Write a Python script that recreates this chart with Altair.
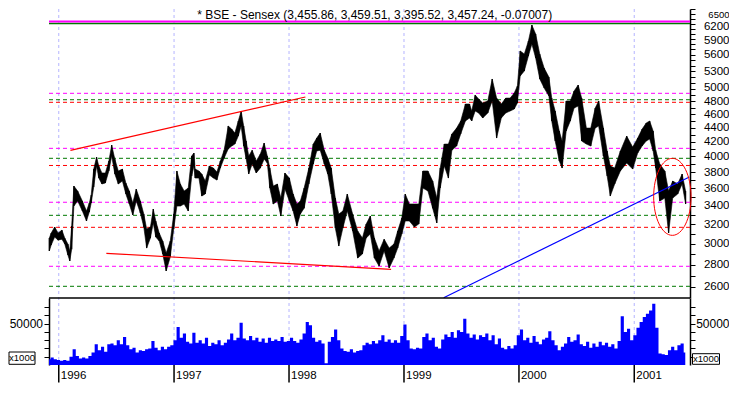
import altair as alt
import pandas as pd

FONT = "Liberation Sans"
TITLE = "* BSE - Sensex (3,455.86, 3,459.51, 3,395.52, 3,457.24, -0.07007)"

# ---------------- price (high / low) ----------------
dates = [
"1995-12-02","1995-12-08","1995-12-19","1995-12-30","1996-01-11","1996-01-20","1996-01-30","1996-02-05","1996-02-11","1996-02-18",
"1996-03-01","1996-03-16","1996-03-29","1996-04-07","1996-04-13","1996-04-21","1996-04-30","1996-05-07","1996-05-17","1996-05-28",
"1996-06-08","1996-06-17","1996-06-27","1996-07-08","1996-07-21","1996-08-01","1996-08-12","1996-08-23","1996-09-03","1996-09-16",
"1996-09-27","1996-10-06","1996-10-18","1996-10-27","1996-11-04","1996-11-15","1996-11-26","1996-12-07","1996-12-20","1996-12-31",
"1997-01-10","1997-01-21","1997-02-02","1997-02-15","1997-02-26","1997-03-05","1997-03-09","1997-03-21","1997-03-30","1997-04-10",
"1997-04-23","1997-05-06","1997-05-17","1997-05-28","1997-06-09","1997-06-22","1997-07-03","1997-07-13","1997-07-24","1997-08-02",
"1997-08-10","1997-08-18","1997-08-26","1997-09-06","1997-09-19","1997-10-02","1997-10-14","1997-10-24","1997-11-01","1997-11-12",
"1997-11-25","1997-12-06","1997-12-19","1998-01-02","1998-01-14","1998-01-26","1998-02-06","1998-02-18","1998-03-05","1998-03-19",
"1998-03-30","1998-04-10","1998-04-23","1998-05-04","1998-05-15","1998-05-28","1998-06-08","1998-06-21","1998-07-05","1998-07-22",
"1998-08-07","1998-08-22","1998-09-03","1998-09-16","1998-09-29","1998-10-14","1998-10-30","1998-11-15","1998-11-30","1998-12-12",
"1998-12-25","1999-01-05","1999-01-18","1999-02-03","1999-02-17","1999-03-02","1999-03-18","1999-04-02","1999-04-15","1999-04-26",
"1999-05-09","1999-05-22","1999-06-02","1999-06-17","1999-06-30","1999-07-15","1999-07-28","1999-08-04","1999-08-15","1999-08-26",
"1999-09-08","1999-09-24","1999-10-08","1999-10-22","1999-11-06","1999-11-20","1999-12-04","1999-12-17","1999-12-27","2000-01-05",
"2000-01-18","2000-01-31","2000-02-11","2000-02-23","2000-03-07","2000-03-21","2000-04-05","2000-04-14","2000-04-25","2000-05-08",
"2000-05-17","2000-05-30","2000-06-12","2000-06-24","2000-07-07","2000-07-18","2000-08-02","2000-08-16","2000-08-30","2000-09-10",
"2000-09-25","2000-10-07","2000-10-17","2000-10-31","2000-11-18","2000-12-08","2000-12-27","2001-01-12","2001-01-26","2001-02-08",
"2001-02-19","2001-03-02","2001-03-10","2001-03-23","2001-04-08","2001-04-20","2001-05-03","2001-05-19","2001-06-02","2001-06-13"]

highs = [
3056,3107,3169,3107,3137,3056,2996,2928,3180,3628,
3569,3453,3341,3430,3522,3837,3992,3876,3788,3788,
3941,4153,3966,3813,3837,3665,3569,3430,3592,3453,
3308,3148,3169,3362,3233,3107,3026,2909,3026,3308,
3813,3653,3569,3604,4006,4046,3837,3813,3775,3689,
3876,3850,3800,3941,4084,4423,4378,4322,4497,4648,
4423,4209,4006,4084,3941,4033,4181,4006,3850,3628,
3653,3487,3788,3725,3534,3419,3453,3604,3850,4167,
4251,4322,4084,3979,3850,3487,3308,3341,3534,3308,
3128,3056,3201,3286,3056,2928,3045,2956,2996,3128,
3264,3534,3419,3419,3419,3813,3813,3689,3487,3850,
4167,4167,4308,4393,4497,4756,4756,4648,4900,4834,
4772,4804,5166,4850,4756,4850,4850,4932,5047,5666,
5610,5856,6172,5992,5610,5355,5199,4850,4648,4351,
4209,4804,4804,4965,5064,4850,4393,4393,4693,4804,
4393,4073,3876,3850,4073,4279,4126,4251,4378,4467,
4497,4351,4084,3902,3813,3569,3689,3653,3775,3569]

lows = [
2928,2986,3066,3035,3045,2996,2889,2833,2946,3396,
3453,3341,3233,3330,3430,3616,3876,3725,3653,3665,
3813,4006,3775,3653,3689,3534,3419,3297,3453,3319,
3169,2956,3056,3212,3066,3026,2899,2741,2870,3148,
3396,3396,3419,3341,3750,3876,3725,3725,3510,3534,
3763,3725,3700,3850,3979,4100,4140,4167,4279,4423,
4140,3966,3775,3902,3788,3850,3966,3915,3604,3419,
3453,3286,3592,3453,3341,3180,3308,3373,3653,3902,
4073,4084,3902,3775,3534,3158,2976,3158,3341,3128,
2860,2899,3056,3097,2860,2786,2928,2768,2860,2956,
3097,3233,3233,3169,3201,3604,3569,3373,3212,3604,
3876,3725,4084,4140,4308,4497,4541,4497,4648,4617,
4541,4617,4804,4251,4541,4617,4648,4677,4772,5217,
5304,5573,5798,5535,5166,5013,4883,4497,4209,3941,
3850,4351,4497,4693,4725,4209,4167,4140,4393,4423,
4006,3750,3510,3653,3813,3915,3837,4046,4140,4209,
4237,4073,3850,3453,3487,3107,3487,3534,3653,3419]

# ---------------- volume (x1000), one reading every 10 days from 1995-12-01 ----------------
vol = [
7000,9000,7000,6000,5000,6000,5000,10000,19000,11000,
8000,9000,8000,11000,15000,25000,18000,22000,16000,25000,
26000,24000,30000,25000,34000,24000,19000,21000,15000,18000,
17000,19000,20000,29000,21000,18000,22000,19000,22000,24000,
30000,46000,33000,38000,28000,26000,39000,27000,30000,26000,
33000,23000,27000,25000,30000,24000,27000,31000,38000,30000,
33000,51000,32000,30000,35000,30000,33000,28000,32000,27000,
33000,29000,31000,29000,34000,28000,29000,33000,29000,27000,
31000,38000,52000,48000,33000,28000,30000,26000,2000,28000,
34000,43000,30000,20000,17000,16000,19000,15000,17000,18000,
24000,27000,25000,29000,26000,30000,36000,28000,31000,27000,
30000,27000,35000,49000,30000,20000,19000,21000,20000,34000,
38000,30000,33000,22000,20000,31000,37000,34000,40000,33000,
42000,40000,56000,38000,33000,37000,31000,36000,34000,38000,
30000,36000,25000,32000,21000,19000,23000,20000,24000,36000,
43000,30000,33000,27000,35000,28000,25000,31000,33000,41000,
30000,24000,18000,22000,26000,34000,28000,30000,37000,25000,
23000,28000,21000,26000,22000,28000,24000,27000,22000,25000,
20000,29000,59000,40000,44000,30000,36000,45000,52000,58000,
62000,66000,74000,45000,14000,13000,12000,18000,22000,18000,
24000,26000,15000]
vol_dates = [d.strftime("%Y-%m-%d") for d in pd.date_range("1995-12-01", periods=len(vol), freq="10D")]

# ---------------- support / resistance levels ----------------
level_values = [4927, 4824, 4783, 4109, 3976, 3883, 3439, 3294, 3166, 2784, 2606]
level_colors = ["#ff00ff", "#007a00", "#ff0000", "#ff00ff", "#007a00", "#ff0000",
                "#ff00ff", "#007a00", "#ff0000", "#ff00ff", "#007a00"]
top_values = [6205, 6245]
top_colors = ["#007a00", "#ff00ff"]
top_widths = [1.4, 1.8]

# ---------------- trend lines ----------------
trend_dates = ["1996-02-07", "1998-02-22", "1996-05-31", "1998-11-21", "1999-05-07", "2001-06-25"]
trend_values = [4082, 4868, 2906, 2756, 2510, 3738]
trend_seg = ["up", "up", "low", "low", "blue", "blue"]
trend_colors = ["#ff0000", "#ff0000", "#ff0000", "#ff0000", "#0000ff", "#0000ff"]

ellipse_date = ["2001-05-02"]
ellipse_value = [3501]

year_dates = ["1996-01-01", "1997-01-01", "1998-01-01", "1999-01-01", "2000-01-01", "2001-01-01"]
year_labels = ["1996", "1997", "1998", "1999", "2000", "2001"]

price_labels = [2600, 2800, 3000, 3200, 3400, 3600, 3800, 4000, 4200, 4400, 4600, 4800,
                5000, 5300, 5600, 5900, 6200, 6500]
price_ticks = list(range(2600, 6501, 100))
vol_ticks = [10000, 20000, 30000, 40000, 50000, 60000, 70000]

# ---------------- layout constants ----------------
W, H = 641, 356
P_BOTTOM = 289
P_MIN, P_MAX = 2507.3, 6508
V_MAX = 81100

price = pd.DataFrame({"date": dates, "high": highs, "low": lows})
volume = pd.DataFrame({"date": vol_dates, "vol": vol})
levels = pd.DataFrame({"value": level_values, "color": level_colors})
tops = pd.DataFrame({"value": top_values, "color": top_colors, "w": top_widths})
trend = pd.DataFrame({"date": trend_dates, "value": trend_values, "seg": trend_seg, "color": trend_colors})
ell = pd.DataFrame({"date": ellipse_date, "value": ellipse_value})
years = pd.DataFrame({"date": year_dates, "label": year_labels})
sep = pd.DataFrame({"value": [P_MIN]})

month_ticks = [int(pd.Timestamp(d, tz="UTC").value // 10**6)
               for d in pd.date_range("1996-01-01", "2001-06-01", freq="MS")]

xscale = alt.Scale(type="utc", nice=False,
                   domain=[alt.DateTime(year=1995, month=12, date=1, utc=True),
                           alt.DateTime(year=2001, month=6, date=27, utc=True)])
pscale = alt.Scale(type="log", domain=[P_MIN, P_MAX], range=[P_BOTTOM, 0], nice=False)
vscale = alt.Scale(type="linear", domain=[0, V_MAX], range=[H, P_BOTTOM], nice=False, zero=True)

plabel_expr = ("indexof([" + ",".join(str(v) for v in price_labels) +
               "], datum.value) >= 0 ? format(datum.value, 'd') : ''")
vlabel_expr = "datum.value === 50000 ? '50000' : ''"

common_axis = dict(title=None, grid=False, tickSize=5, tickColor="black", tickWidth=1,
                   domainColor="black", domainWidth=1.5, labelColor="black",
                   labelFont=FONT, labelOverlap=False)
p_font = {"condition": {"test": "datum.value === 6500", "value": 9.5}, "value": 11.5}
p_offset = {"condition": [
    {"test": "datum.value === 6200", "value": 3.3},
    {"test": "datum.value === 5900", "value": 1.8},
    {"test": "datum.value === 5000", "value": -1.0},
    {"test": "datum.value === 4600", "value": 0.3}], "value": 0}

p_axis_left = alt.Axis(orient="left", values=price_ticks, labelExpr=plabel_expr,
                       labelPadding=1.5, labelFlush=2, labelFontSize=p_font,
                       labelOffset=p_offset, **common_axis)
p_axis_right = alt.Axis(orient="right", values=price_ticks, labelExpr=plabel_expr,
                        labelAlign="right", labelPadding=34, labelFlush=2,
                        labelFontSize=p_font, labelOffset=p_offset, **common_axis)
v_axis_left = alt.Axis(orient="left", values=vol_ticks, labelExpr=vlabel_expr,
                       labelPadding=1.5, labelFontSize=12, **common_axis)
v_axis_right = alt.Axis(orient="right", values=vol_ticks, labelExpr=vlabel_expr,
                        labelAlign="right", labelPadding=34, labelFontSize=12, **common_axis)
x_axis = alt.Axis(orient="bottom", values=month_ticks, labels=False, title=None, grid=False,
                  tickSize=5, tickColor="black", tickWidth=1, domainColor="black", domainWidth=1.5)

X = lambda axis=None: alt.X("date:T", scale=xscale, axis=axis)

# vertical year grid (carries the x axis)
vgrid = alt.Chart(years).mark_rule(color="#b4b4ff", strokeDash=[3, 3], strokeWidth=1).encode(
    x=X(x_axis), y=alt.value(0), y2=alt.value(H))

# price panel
hl = alt.Chart(levels).mark_rule(strokeDash=[4, 3], strokeWidth=1).encode(
    y=alt.Y("value:Q", scale=pscale, axis=p_axis_left),
    color=alt.Color("color:N", scale=None))
top_lines = alt.Chart(tops).mark_rule().encode(
    y=alt.Y("value:Q", scale=pscale, axis=None),
    color=alt.Color("color:N", scale=None),
    strokeWidth=alt.StrokeWidth("w:Q", scale=None))
band = alt.Chart(price).mark_area(color="black", stroke="black", strokeWidth=0.6,
                                  interpolate="linear").encode(
    x=X(), y=alt.Y("low:Q", scale=pscale, axis=None), y2="high:Q")
bars = alt.Chart(price).mark_rule(color="black", strokeWidth=1.2).encode(
    x=X(), y=alt.Y("low:Q", scale=pscale, axis=None), y2="high:Q")
trends = alt.Chart(trend).mark_line(strokeWidth=1.2).encode(
    x=X(), y=alt.Y("value:Q", scale=pscale, axis=None),
    detail="seg:N", color=alt.Color("color:N", scale=None))
ELLIPSE = ("M -1 0 C -1 -1.137 -0.5523 -2.059 0 -2.059 C 0.5523 -2.059 1 -1.137 1 0 "
           "C 1 1.137 0.5523 2.059 0 2.059 C -0.5523 2.059 -1 1.137 -1 0 Z")
ellipse = alt.Chart(ell).mark_point(shape=ELLIPSE, size=1399, filled=False, color="#ff0000",
                                    strokeWidth=1, opacity=1).encode(
    x=X(), y=alt.Y("value:Q", scale=pscale, axis=None))
sep_line = alt.Chart(sep).mark_rule(color="black", strokeWidth=1.5).encode(
    y=alt.Y("value:Q", scale=pscale, axis=None))
price_layer = alt.layer(hl, top_lines, band, bars, trends, ellipse, sep_line)
price_right = alt.Chart(levels).mark_rule(opacity=0).encode(
    y=alt.Y("value:Q", scale=pscale, axis=p_axis_right))

# volume panel
vol_area = alt.Chart(volume).mark_area(color="#0000ff", interpolate="step").encode(
    x=X(), y=alt.Y("vol:Q", scale=vscale, axis=v_axis_left))
vol_right = alt.Chart(volume).mark_rule(opacity=0).encode(
    y=alt.Y("vol:Q", scale=vscale, axis=v_axis_right))

# date axis decorations
year_ticks = alt.Chart(years).mark_rule(color="black", strokeWidth=1.5).encode(
    x=X(), y=alt.value(H), y2=alt.value(H + 17.5))
year_text = alt.Chart(years).mark_text(align="left", baseline="middle", dx=2, fontSize=11.5,
                                       font=FONT, color="black").encode(
    x=X(), y=alt.value(H + 11.3), text="label:N")

title = alt.Chart(pd.DataFrame({"t": [TITLE]})).mark_text(
    align="center", baseline="top", fontSize=12, font=FONT, color="black").encode(
    x=alt.value(325.7), y=alt.value(0.5), text="t:N")

unit = pd.DataFrame({"t": ["x1000"]})
box_l = alt.Chart(unit).mark_rect(fill="white", stroke="black", strokeWidth=1).encode(
    x=alt.value(-40), x2=alt.value(-14), y=alt.value(343), y2=alt.value(355.3))
txt_l = alt.Chart(unit).mark_text(fontSize=9.5, font=FONT, color="black", baseline="middle").encode(
    x=alt.value(-27), y=alt.value(349.3), text="t:N")
box_r = alt.Chart(unit).mark_rect(fill="white", stroke="black", strokeWidth=1).encode(
    x=alt.value(643.5), x2=alt.value(670.5), y=alt.value(344.7), y2=alt.value(355.3))
txt_r = alt.Chart(unit).mark_text(fontSize=9.5, font=FONT, color="black", baseline="middle").encode(
    x=alt.value(657), y=alt.value(350), text="t:N")

chart = alt.layer(
    vgrid, price_layer, price_right, vol_area, vol_right,
    year_ticks, year_text, title, box_l, txt_l, box_r, txt_r
).resolve_scale(y="independent").properties(
    width=W, height=H, padding=0, background="white"
).configure_view(stroke=None)

chart.save("out.html", embed_options={"renderer": "svg", "actions": False})
